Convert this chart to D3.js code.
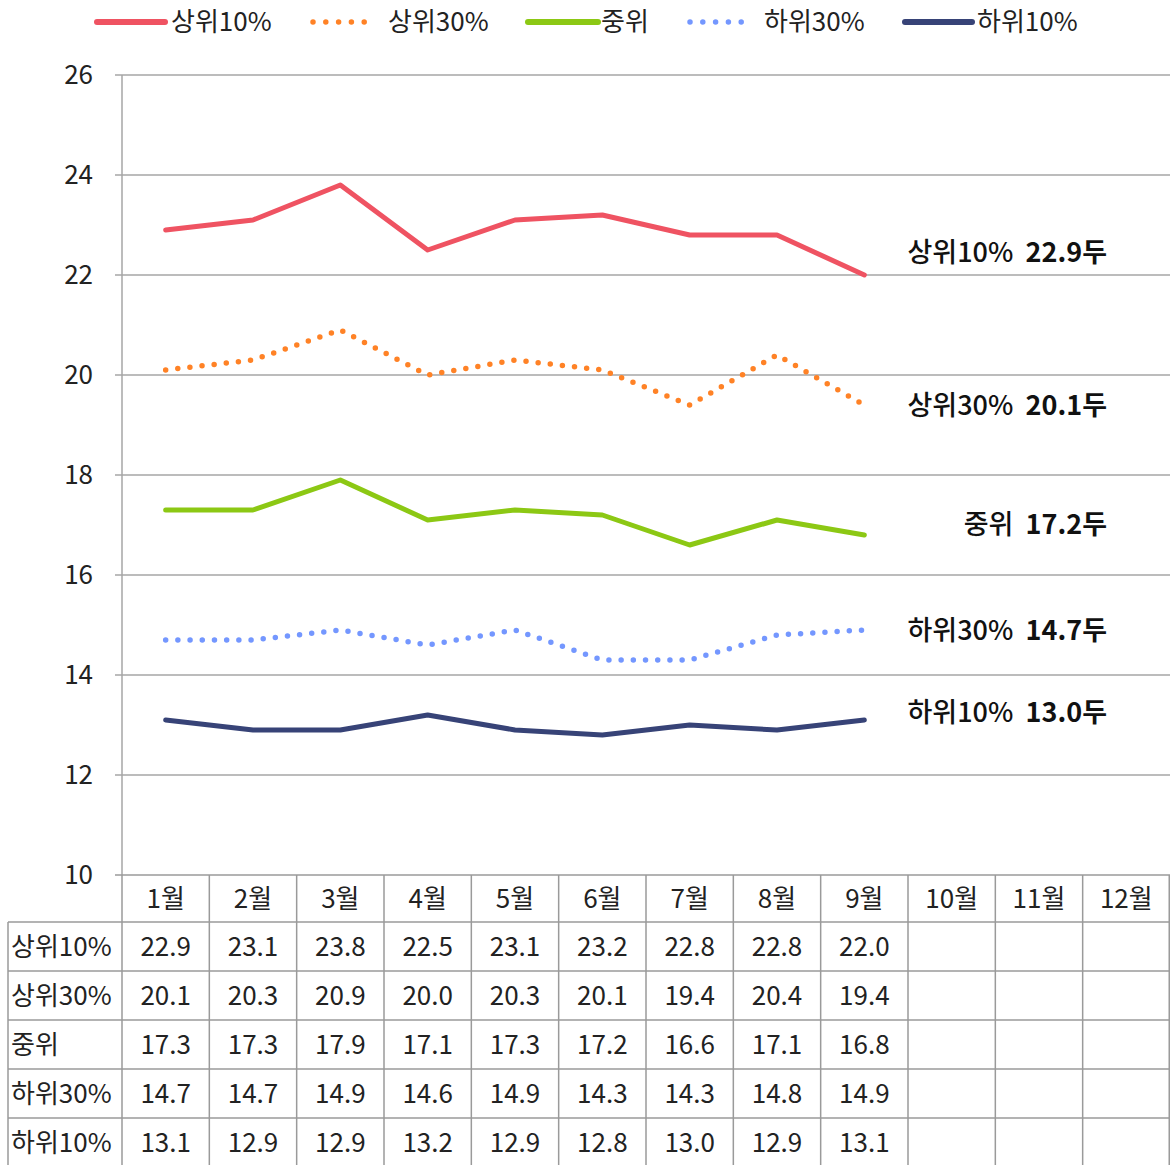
<!DOCTYPE html>
<html>
<head>
<meta charset="utf-8">
<script src="https://cdn.jsdelivr.net/npm/d3@7"></script>
<style>
  html, body { margin: 0; padding: 0; background: #fff; }
  svg { display: block; font-family: "Noto Sans CJK KR", "Noto Sans", sans-serif; }
</style>
</head>
<body>
<svg id="chart" width="1170" height="1165"></svg>
<script>
// Months on the category axis
const months = ["1월", "2월", "3월", "4월", "5월", "6월", "7월", "8월", "9월", "10월", "11월", "12월"];
// Series names
const seriesNames = ["상위10%", "상위30%", "중위", "하위30%", "하위10%"];
// Monthly values (only Jan–Sep reported)
const top10 = [22.9, 23.1, 23.8, 22.5, 23.1, 23.2, 22.8, 22.8, 22.0];
const top30 = [20.1, 20.3, 20.9, 20.0, 20.3, 20.1, 19.4, 20.4, 19.4];
const median = [17.3, 17.3, 17.9, 17.1, 17.3, 17.2, 16.6, 17.1, 16.8];
const bottom30 = [14.7, 14.7, 14.9, 14.6, 14.9, 14.3, 14.3, 14.8, 14.9];
const bottom10 = [13.1, 12.9, 12.9, 13.2, 12.9, 12.8, 13.0, 12.9, 13.1];
// Summary labels shown at the right of each line
const summaryValues = ["22.9", "20.1", "17.2", "14.7", "13.0"];
// Y axis ticks
const yTicks = [10, 12, 14, 16, 18, 20, 22, 24, 26];

const seriesValues = [top10, top30, median, bottom30, bottom10];
const colors = ["#EF5362", "#FF8226", "#8CC814", "#7497FF", "#374377"];
const dotted = [false, true, false, true, false];

const svg = d3.select("#chart");
const FONT = 26;
const gridColor = "#a6a6a6";
const tableColor = "#9a9a9a";

const plot = { left: 122, right: 1170, top: 75, bottom: 875 };
const x = d3.scaleBand().domain(months).range([plot.left, plot.right]).paddingInner(0).paddingOuter(0);
const y = d3.scaleLinear().domain([10, 26]).range([plot.bottom, plot.top]);

// Horizontal gridlines with small tick stubs to the left of the axis
svg.append("g").selectAll("line").data(yTicks.filter(t => t > 10)).join("line")
  .attr("x1", plot.left - 7).attr("x2", plot.right)
  .attr("y1", d => y(d)).attr("y2", d => y(d))
  .attr("stroke", gridColor).attr("stroke-width", 1.5);

// Vertical value axis
svg.append("line")
  .attr("x1", plot.left).attr("x2", plot.left)
  .attr("y1", plot.top).attr("y2", plot.bottom)
  .attr("stroke", gridColor).attr("stroke-width", 1.5);

// Y tick labels
svg.append("g").selectAll("text").data(yTicks).join("text")
  .attr("x", 93).attr("y", d => y(d))
  .attr("dy", "0.35em")
  .attr("text-anchor", "end")
  .attr("font-size", FONT).attr("fill", "#222")
  .text(d => d);

// Data table grid
const rowH = 49;
const headerTop = plot.bottom, headerBottom = 922;
const tableBottom = 1165;
const labelLeft = 8;
const tg = svg.append("g").attr("stroke", tableColor).attr("stroke-width", 1.5);
// header top line (x axis)
tg.append("line").attr("x1", plot.left - 7).attr("x2", plot.right).attr("y1", headerTop).attr("y2", headerTop);
// row separators
const rowTops = seriesNames.map((_, i) => headerBottom + i * rowH);
rowTops.forEach(ry => tg.append("line").attr("x1", labelLeft).attr("x2", plot.right).attr("y1", ry).attr("y2", ry));
// column separators
months.forEach(m => tg.append("line").attr("x1", x(m)).attr("x2", x(m)).attr("y1", headerTop).attr("y2", tableBottom));
tg.append("line").attr("x1", plot.right - 0.75).attr("x2", plot.right - 0.75).attr("y1", headerTop).attr("y2", tableBottom);
tg.append("line").attr("x1", labelLeft).attr("x2", labelLeft).attr("y1", headerBottom).attr("y2", tableBottom);

// Month headers
svg.append("g").selectAll("text").data(months).join("text")
  .attr("x", d => x(d) + x.bandwidth() / 2)
  .attr("y", (headerTop + headerBottom) / 2)
  .attr("dy", "0.35em").attr("text-anchor", "middle")
  .attr("font-size", FONT).attr("fill", "#222")
  .text(d => d);

// Row labels and values
seriesNames.forEach((name, i) => {
  const cy = rowTops[i] + rowH / 2;
  svg.append("text").attr("x", 11).attr("y", cy).attr("dy", "0.35em")
    .attr("font-size", FONT).attr("fill", "#222").text(name);
  svg.append("g").selectAll("text").data(seriesValues[i]).join("text")
    .attr("x", (d, j) => x(months[j]) + x.bandwidth() / 2)
    .attr("y", cy).attr("dy", "0.35em").attr("text-anchor", "middle")
    .attr("font-size", FONT).attr("fill", "#222")
    .text(d => d.toFixed(1));
});

// Lines
const line = d3.line()
  .x((d, j) => x(months[j]) + x.bandwidth() / 2)
  .y(d => y(d));

seriesValues.forEach((vals, i) => {
  const p = svg.append("path").datum(vals)
    .attr("d", line)
    .attr("fill", "none")
    .attr("stroke", colors[i])
    .attr("stroke-width", dotted[i] ? 5.5 : 5)
    .attr("stroke-linejoin", "round")
    .attr("stroke-linecap", "round");
  if (dotted[i]) p.attr("stroke-dasharray", "0 12.2");
});

// Summary labels at the right
const summaryY = [253, 406, 525, 631, 713];
seriesNames.forEach((name, i) => {
  const t = svg.append("text")
    .attr("x", 1107).attr("y", summaryY[i]).attr("dy", "0.35em")
    .attr("text-anchor", "end")
    .attr("font-size", 27).attr("fill", "#111");
  t.append("tspan").attr("font-weight", 500).text(name);
  t.append("tspan").attr("font-weight", 700).text("\u00a0\u00a0" + summaryValues[i] + "두");
});

// Legend
const legendItems = [
  { x0: 97, x1: 165, tx: 171 },
  { x0: 313, x1: 377, tx: 388 },
  { x0: 528, x1: 598, tx: 601 },
  { x0: 690, x1: 752, tx: 764 },
  { x0: 905, x1: 972, tx: 977 }
];
const legendY = 22;
legendItems.forEach((it, i) => {
  const l = svg.append("line")
    .attr("x1", it.x0).attr("x2", it.x1)
    .attr("y1", legendY).attr("y2", legendY)
    .attr("stroke", colors[i])
    .attr("stroke-width", dotted[i] ? 5.5 : 6)
    .attr("stroke-linecap", "round");
  if (dotted[i]) l.attr("stroke-dasharray", "0 12.8");
  svg.append("text").attr("x", it.tx).attr("y", legendY).attr("dy", "0.35em")
    .attr("font-size", FONT).attr("fill", "#222").text(seriesNames[i]);
});
</script>
</body>
</html>
